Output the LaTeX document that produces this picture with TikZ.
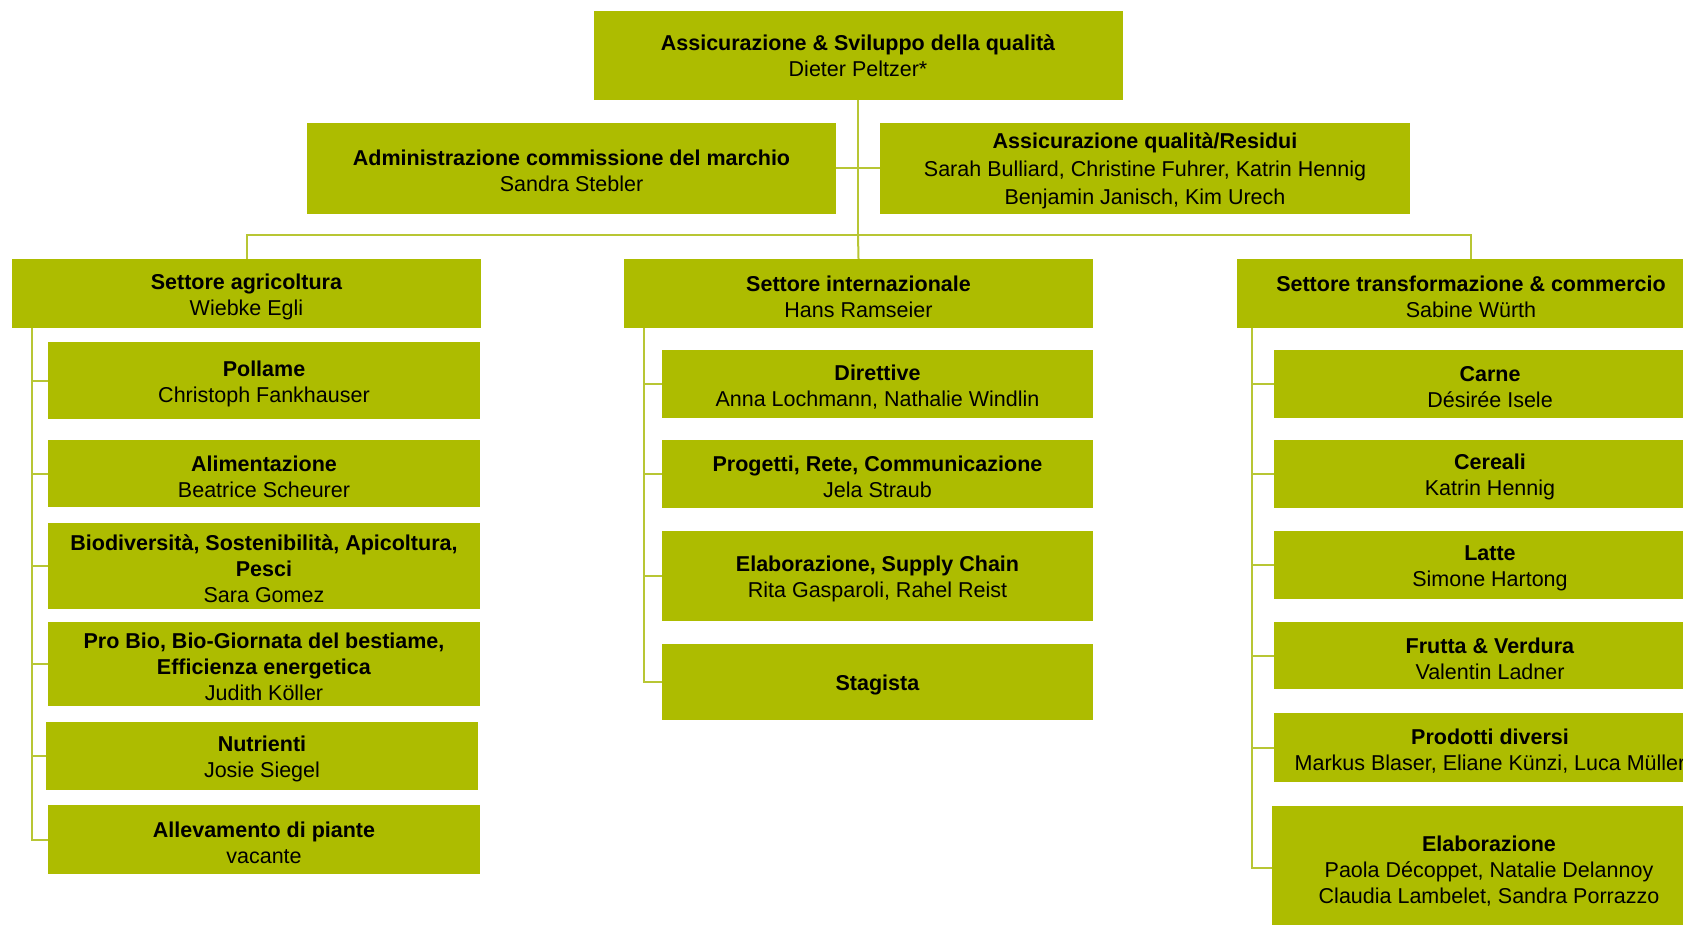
\documentclass[tikz,border=0pt]{standalone}
\usepackage{fontspec}
\setmainfont{Liberation Sans}
\definecolor{biogreen}{RGB}{173,188,0}
\definecolor{linkgreen}{RGB}{184,198,52}
\usetikzlibrary{positioning,calc}

% bold unit title, with a strut that sets the text slightly lower in its box
\newcommand{\unittitle}[1]{\rule{0pt}{22pt}\textbf{#1}}

\tikzset{
  orgbox/.style 2 args={fill=biogreen,draw=none,inner sep=0pt,align=center,
    minimum width=#1pt,minimum height=#2pt,
    font=\fontsize{21.5pt}{26pt}\selectfont},
  link/.style={draw=linkgreen,line width=2pt}
}

\begin{document}
\begin{tikzpicture}[x=1pt,y=-1pt]
    \useasboundingbox (0,0) rectangle (1683,924);

    % Top level
    \node[orgbox={529}{89}] (qs) at (858,55.5) {\textbf{Assicurazione \& Sviluppo della qualità}\\Dieter Peltzer*};
    \node[orgbox={529}{91}] (admin) at (571.5,168) {\unittitle{Administrazione commissione del marchio}\\Sandra Stebler};
    \node[orgbox={530}{91},font=\fontsize{21.5pt}{28pt}\selectfont] (residui) at (1145,168) {\unittitle{Assicurazione qualità/Residui}\\Sarah Bulliard, Christine Fuhrer, Katrin Hennig\\Benjamin Janisch, Kim Urech};

    % Sectors
    \node[orgbox={469}{69}] (agri) at (246.5,293.5) {\unittitle{Settore agricoltura}\\Wiebke Egli};
    \node[orgbox={469}{69}] (intl) at (858.5,293.5) {\unittitle{Settore internazionale}\\Hans Ramseier};
    \node[orgbox={468}{69}] (trade) at (1471,293.5) {\unittitle{Settore transformazione \& commercio}\\Sabine Würth};

    % Agricoltura
    \node[orgbox={432}{77}] (pollame) at (264,380.5) {\unittitle{Pollame}\\Christoph Fankhauser};
    \node[orgbox={432}{67}] (alim) at (264,473.5) {\unittitle{Alimentazione}\\Beatrice Scheurer};
    \node[orgbox={432}{86}] (biodiv) at (264,566) {\unittitle{Biodiversità, Sostenibilità, Apicoltura,}\\\textbf{Pesci}\\Sara Gomez};
    \node[orgbox={432}{84}] (probio) at (264,664) {\unittitle{Pro Bio, Bio-Giornata del bestiame,}\\\textbf{Efficienza energetica}\\Judith Köller};
    \node[orgbox={432}{68}] (nutri) at (262,756) {\unittitle{Nutrienti}\\Josie Siegel};
    \node[orgbox={432}{69}] (piante) at (264,839.5) {\unittitle{Allevamento di piante}\\vacante};

    % Internazionale
    \node[orgbox={431}{68}] (dirett) at (877.5,384) {\unittitle{Direttive}\\Anna Lochmann, Nathalie Windlin};
    \node[orgbox={431}{68}] (progetti) at (877.5,474) {\unittitle{Progetti, Rete, Communicazione}\\Jela Straub};
    \node[orgbox={431}{90}] (supply) at (877.5,576) {\unittitle{Elaborazione, Supply Chain}\\Rita Gasparoli, Rahel Reist};
    \node[orgbox={431}{76}] (stage) at (877.5,682) {\unittitle{Stagista}};

    % Transformazione & commercio
    \node[orgbox={432}{68}] (carne) at (1490,384) {\unittitle{Carne}\\Désirée Isele};
    \node[orgbox={432}{68}] (cereali) at (1490,474) {\unittitle{Cereali}\\Katrin Hennig};
    \node[orgbox={432}{68}] (latte) at (1490,565) {\unittitle{Latte}\\Simone Hartong};
    \node[orgbox={432}{67}] (frutta) at (1490,655.5) {\unittitle{Frutta \& Verdura}\\Valentin Ladner};
    \node[orgbox={432}{69}] (diversi) at (1490,747.5) {\unittitle{Prodotti diversi}\\Markus Blaser, Eliane Künzi, Luca Müller};
    \node[orgbox={434}{124}] (elab) at (1489,868) {\unittitle{Elaborazione}\\Paola Décoppet, Natalie Delannoy\\Claudia Lambelet, Sandra Porrazzo};

    % Connectors
    \coordinate (bus) at (qs.south |- 0,235);
    \draw[link] (qs.south) -- (bus);
    \draw[link] (admin.east) -- (residui.west);
    \draw[link] (agri.north) |- (bus) -| (trade.north);
    \draw[link] (bus) -- (intl.north);

    \coordinate (agrispine) at ([xshift=20pt]agri.south west);
    \foreach \c in {pollame,alim,biodiv,probio,nutri,piante}
        \draw[link] (agrispine) |- (\c.west);

    \coordinate (intlspine) at ([xshift=20pt]intl.south west);
    \foreach \c in {dirett,progetti,supply,stage}
        \draw[link] (intlspine) |- (\c.west);

    \coordinate (tradespine) at ([xshift=15pt]trade.south west);
    \foreach \c in {carne,cereali,latte,frutta,diversi,elab}
        \draw[link] (tradespine) |- (\c.west);
\end{tikzpicture}
\end{document}
